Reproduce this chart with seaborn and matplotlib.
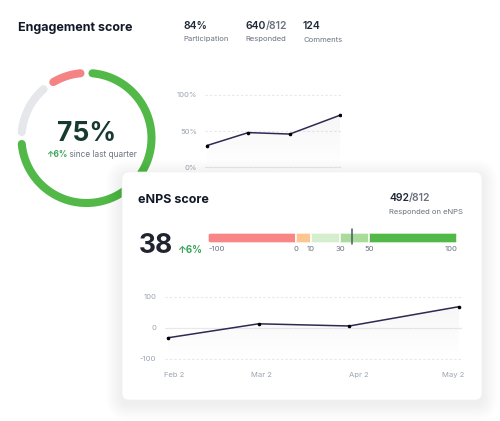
import matplotlib.pyplot as plt
import matplotlib.dates as mdates
from matplotlib.patches import FancyBboxPatch
from matplotlib.scale import FuncScale
import seaborn as sns
import pandas as pd
import numpy as np

# header stats
stat_values = ['84%', '640', '124']
stat_labels = ['Participation', 'Responded', 'Comments']
responded_total = '/812'

# donut: score, neutral, negative
donut_parts = [75, 15, 10]
donut_colors = ['#52b848', '#e5e7eb', '#f58383']
engagement_score = '75%'
engagement_change = '↑6%'

# both trend charts share the survey dates
survey_dates = pd.to_datetime(['2023-01-31', '2023-03-01', '2023-03-30', '2023-05-04'])
engagement_values = [30, 48, 46, 72]
enps_values = [-32, 13, 6, 68]
date_ticks = pd.to_datetime(['2023-02-02', '2023-03-02', '2023-04-02', '2023-05-02'])
date_labels = ['Feb 2', 'Mar 2', 'Apr 2', 'May 2']

# eNPS bands
band_edges = [-100, 0, 10, 30, 50, 100]
band_colors = ['#f88686', '#fdc690', '#d5eecd', '#a9dc9b', '#52b848']
enps_score = 38
enps_change = '↑6%'
enps_responded = ('492', '/812')

sns.set_theme(style='white')
plt.rcParams['font.family'] = ['Inter', 'DejaVu Sans']

W, H = 500, 421
DARK = '#1f2937'
GRAY = '#6b7280'
LIGHT = '#9ca3af'
LINE = '#2e2a54'
GREEN_TXT = '#3ba55d'


def box(l, t, r, b):
    # pixel box (from top-left) -> figure fraction rect
    return [l / W, 1 - b / H, (r - l) / W, (b - t) / H]


def two_tone(ax, x, y, a, b, size, ca, cb, weight='normal', ha='left', z=10):
    t = ax.text(x, y, a, fontsize=size, color=ca, fontweight=weight, ha=ha, va='baseline', zorder=z)
    ax.annotate(b, xy=(1, 0), xycoords=t, fontsize=size, color=cb, fontweight=weight,
                ha='left', va='bottom', zorder=z)
    return t


def gradient_fill(ax, x, y, floor, alpha):
    xn = mdates.date2num(x)
    poly = ax.fill_between(xn, y, floor, color='none', lw=0)
    grad = np.zeros((100, 1, 4))
    grad[..., :3] = 0.55
    grad[..., 3] = np.linspace(0, alpha, 100)[:, None]
    img = ax.imshow(grad, extent=[xn.min(), xn.max(), floor, max(y)], aspect='auto',
                    origin='lower', zorder=1)
    img.set_clip_path(poly.get_paths()[0], transform=ax.transData)


fig = plt.figure(figsize=(W / 100, H / 100), dpi=100)
fig.patch.set_facecolor('white')

# overlay in pixel coords for text and the card
ov = fig.add_axes([0, 0, 1, 1], zorder=1)
ov.set_xlim(0, W)
ov.set_ylim(H, 0)
ov.axis('off')

# header
ov.text(18, 31, 'Engagement score', fontsize=9, fontweight='bold', color='#111827')
stat_x = [183, 245, 303]
for i, (val, lab) in enumerate(zip(stat_values, stat_labels)):
    if i == 1:
        two_tone(ov, stat_x[i], 29, val, responded_total, 7.5, DARK, GRAY, weight='semibold')
    else:
        ov.text(stat_x[i], 29, val, fontsize=7.5, color=DARK, fontweight='semibold')
    ov.text(stat_x[i], 41.5, lab, fontsize=5.5, color=GRAY)

# donut
dn = fig.add_axes(box(6.5, 58, 166.5, 218), projection='polar', zorder=0)
dn.set_theta_zero_location('N')
dn.set_theta_direction(-1)
dn.set_ylim(0, 80)
dn.axis('off')
trim = 6 / 65
start = 0
for v, c in zip(donut_parts, donut_colors):
    th = np.linspace(2 * np.pi * start / 100 + trim, 2 * np.pi * (start + v) / 100 - trim, 120)
    dn.plot(th, np.full_like(th, 65), color=c, lw=5.8, solid_capstyle='round')
    start += v

ov.text(86.5, 141, engagement_score, fontsize=19, fontweight='bold', color='#163a30', ha='center', zorder=0)
t = ov.text(45.7, 157.3, engagement_change, fontsize=6, color=GREEN_TXT, fontweight='bold', zorder=0)
ov.annotate(' since last quarter', xy=(1, 0), xycoords=t, fontsize=6, color=GRAY, va='bottom', zorder=0)

# engagement trend (partly hidden by the card)
ea = fig.add_axes(box(205.3, 92.1, 341.4, 170.2), zorder=0)
ea.patch.set_alpha(0)
sns.lineplot(x=survey_dates, y=engagement_values, ax=ea, color=LINE, lw=1.1,
             marker='o', markersize=2.6, markeredgewidth=0, markerfacecolor='black', zorder=3)
gradient_fill(ea, survey_dates, engagement_values, 0, 0.08)
ea.set_xlim(survey_dates[0] - pd.Timedelta(days=1), survey_dates[-1] + pd.Timedelta(days=1))
ea.set_ylim(-4, 104)
ea.set_yticks([0, 50, 100], ['0%', '50%', '100%'])
ea.set_xticks([])
ea.grid(axis='y', ls=(0, (2, 2)), color='#e5e7eb', lw=0.8)
ea.axhline(0, color='#ebebeb', lw=0.8, zorder=0.5)
ea.tick_params(axis='y', length=0, pad=6, labelsize=5.5, labelcolor=LIGHT)
ea.set_xlabel('')
ea.set_ylabel('')
sns.despine(ax=ea, left=True, bottom=True)

# card + soft shadow
cx, cy, cw, ch = 122, 172, 360, 228
for i in range(1, 17):
    ov.add_patch(FancyBboxPatch((cx - i, cy - i + 4), cw + 2 * i, ch + 2 * i,
                                boxstyle=f'round,pad=0,rounding_size={7 + i}',
                                fc='black', ec='none', alpha=0.0045, zorder=4))
ov.add_patch(FancyBboxPatch((cx, cy), cw, ch, boxstyle='round,pad=0,rounding_size=7',
                            fc='white', ec='#f1f1f3', lw=0.5, zorder=5))

ov.text(138, 203.3, 'eNPS score', fontsize=9, fontweight='bold', color='#111827', zorder=10)
two_tone(ov, 389.3, 200.7, enps_responded[0], enps_responded[1], 7.5, DARK, GRAY, weight='semibold')
ov.text(389.3, 213.7, 'Responded on eNPS', fontsize=5.5, color=GRAY, zorder=10)
ov.text(139, 253.3, str(enps_score), fontsize=19, fontweight='bold', color='#1f2430', zorder=10)
ov.text(177.3, 253.3, enps_change, fontsize=7, color=GREEN_TXT, fontweight='bold', zorder=10)

# eNPS gauge with a stretched middle
band_spacing = [0, 6, 7, 9, 11, 17]
ga = fig.add_axes(box(208.3, 233.3, 457.3, 242.7), zorder=2)
ga.patch.set_alpha(0)
ga.set_xscale(FuncScale(ga, (lambda v: np.interp(v, band_edges, band_spacing),
                             lambda v: np.interp(v, band_spacing, band_edges))))
bars = ga.barh(0, width=np.diff(band_edges), left=band_edges[:-1], height=1,
               color=band_colors, edgecolor='white', linewidth=1.1)
rounded = FancyBboxPatch((208.3, 233.3), 249, 9.4, boxstyle='round,pad=0,rounding_size=3',
                         transform=ov.transData)
for b in bars:
    b.set_clip_path(rounded)
ga.axvline(enps_score, ymin=-0.14, ymax=1.46, clip_on=False, color='#4b5563', lw=1.1)
ga.set_xlim(band_edges[0], band_edges[-1])
ga.set_ylim(-0.5, 0.5)
ga.set_yticks([])
ga.set_xticks(band_edges, [str(e) for e in band_edges])
ga.tick_params(axis='x', length=0, pad=2.5, labelsize=5.5, labelcolor=GRAY)
labels = ga.get_xticklabels()
labels[0].set_ha('left')
labels[-1].set_ha('right')
sns.despine(ax=ga, left=True, bottom=True)

# eNPS trend
na = fig.add_axes(box(164.6, 296.7 - 1.55, 462.1, 359 + 1.55), zorder=2)
na.patch.set_alpha(0)
sns.lineplot(x=survey_dates, y=enps_values, ax=na, color=LINE, lw=1.1,
             marker='o', markersize=2.6, markeredgewidth=0, markerfacecolor='black', zorder=3)
gradient_fill(na, survey_dates, enps_values, -100, 0.07)
na.set_xlim(survey_dates[0] - pd.Timedelta(days=1), survey_dates[-1] + pd.Timedelta(days=1))
na.set_ylim(-105, 105)
na.set_yticks([-100, 0, 100], ['-100', '0', '100'])
na.set_xticks(date_ticks, date_labels)
na.grid(axis='y', ls=(0, (2, 2)), color='#e5e7eb', lw=0.8)
na.axhline(0, color='#ebebeb', lw=0.8, zorder=0.5)
na.tick_params(axis='y', length=0, pad=6, labelsize=5.5, labelcolor=LIGHT)
na.tick_params(axis='x', length=0, pad=8, labelsize=5.5, labelcolor=LIGHT)
na.set_xlabel('')
na.set_ylabel('')
sns.despine(ax=na, left=True, bottom=True)

fig.savefig('out.png', dpi=100, facecolor='white')
